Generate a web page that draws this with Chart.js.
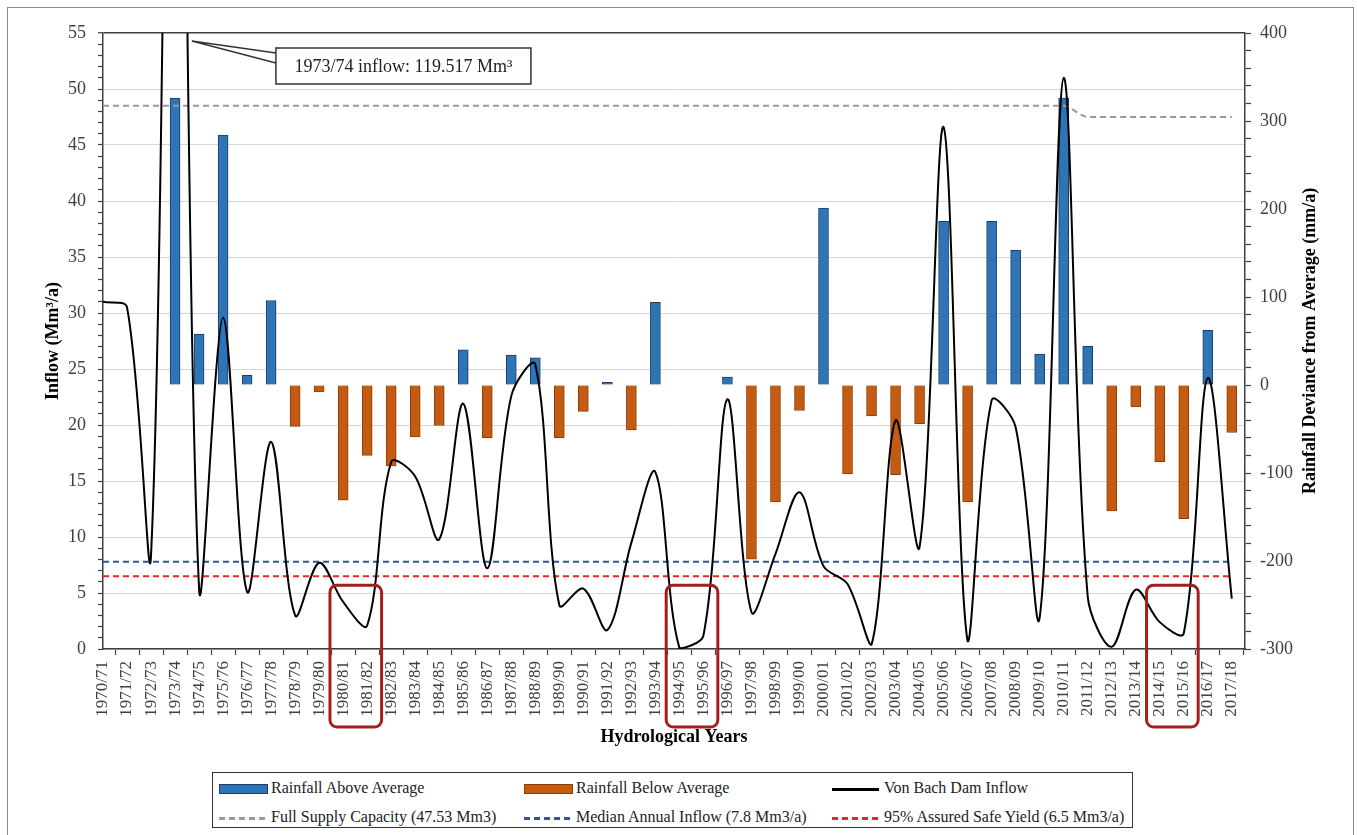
<!DOCTYPE html>
<html>
<head>
<meta charset="utf-8">
<title>Von Bach Dam inflow and rainfall deviance</title>
<script src="https://cdn.jsdelivr.net/npm/chart.js@4.4.0/dist/chart.umd.min.js"></script>
<style>
    html, body { margin: 0; padding: 0; background: #fff; overflow: hidden; }
    #wrap { position: relative; width: 1357px; height: 835px; }
    #chart { position: absolute; left: 0; top: 0; }
    #frame {
        position: absolute; left: 7px; top: 7px; width: 1347px; height: 850px;
        border: 1.5px solid #8a8a8a; box-sizing: border-box; pointer-events: none;
    }
    #legend {
        position: absolute; left: 212px; top: 772px; width: 921px; height: 56px;
        border: 1.5px solid #333; box-sizing: border-box; background: #fff;
        font-family: 'Liberation Serif', 'Times New Roman', serif; font-size: 16px; color: #222;
    }
    .item { position: absolute; white-space: nowrap; line-height: 18px; }
    .sw { position: absolute; }
    .sw-bar { width: 47px; height: 8px; margin-top: -5px; border: 1px solid; }
    .sw-line { width: 47px; height: 2.5px; margin-top: -1px; }
</style>
</head>
<body>
<div id="wrap">
    <canvas id="chart" width="1357" height="835"></canvas>
    <div id="frame"></div>
    <div id="legend"></div>
</div>
<script>
// ==================== DATOS ====================
const YEARS = [
    '1970/71', '1971/72', '1972/73', '1973/74', '1974/75', '1975/76', '1976/77', '1977/78',
    '1978/79', '1979/80', '1980/81', '1981/82', '1982/83', '1983/84', '1984/85', '1985/86',
    '1986/87', '1987/88', '1988/89', '1989/90', '1990/91', '1991/92', '1992/93', '1993/94',
    '1994/95', '1995/96', '1996/97', '1997/98', '1998/99', '1999/00', '2000/01', '2001/02',
    '2002/03', '2003/04', '2004/05', '2005/06', '2006/07', '2007/08', '2008/09', '2009/10',
    '2010/11', '2011/12', '2012/13', '2013/14', '2014/15', '2015/16', '2016/17', '2017/18',
];

// Von Bach Dam inflow (Mm3/a), eje izquierdo
const INFLOW = [
    31.0, 30.5, 8.4, 119.517, 5.4, 29.6, 5.1, 18.5,
    3.0, 7.7, 4.2, 2.1, 16.7, 15.4, 9.8, 21.9,
    7.2, 22.6, 25.4, 3.9, 5.4, 1.7, 9.5, 15.8,
    0.1, 1.2, 22.3, 3.3, 8.5, 14.0, 7.4, 5.8,
    0.4, 20.4, 9.1, 46.6, 0.7, 22.2, 19.8, 2.8,
    51.0, 4.7, 0.2, 5.3, 2.4, 1.4, 24.2, 4.5,
];

// Rainfall deviance from average (mm/a), eje derecho
const DEVIANCE = [
    null, null, null, 326, 58, 284, 11, 96,
    -47, -8, -131, -80, -92, -59, -46, 40,
    -60, 34, 31, -60, -30, 3, -51, 94,
    null, null, 9, -198, -133, -29, 201, -101,
    -35, -102, -44, 186, -133, 186, 153, 35,
    326, 44, -143, -25, -87, -152, 62, -54,
];

const FULL_SUPPLY_X = [0, 40, 41, 47];
const FULL_SUPPLY_Y = [48.5, 48.5, 47.5, 47.5];
const MEDIAN_INFLOW = 7.8;
const SAFE_YIELD = 6.5;

// recuadros rojos (índices de año)
const BOX_FROM = [10, 24, 44];
const BOX_TO = [11, 25, 45];

const FONT = "'Liberation Serif', 'Times New Roman', serif";
const AXIS = '#404040';

const pts = arr => arr.map((v, i) => ({ x: i, y: v }));
const last = YEARS.length - 1;

const extras = {
    id: 'extras',
    afterDraw(chart) {
        const { ctx, chartArea: a, scales } = chart;
        const xs = scales.x, yl = scales.y;
        ctx.save();

        // recuadros rojos
        ctx.strokeStyle = '#a31f1f';
        ctx.lineWidth = 3;
        BOX_FROM.forEach((f, i) => {
            const x0 = xs.getPixelForValue(f - 0.55);
            const x1 = xs.getPixelForValue(BOX_TO[i] + 0.6);
            const y0 = yl.getPixelForValue(5.7);
            const y1 = a.bottom + 78;
            ctx.beginPath();
            ctx.roundRect(x0, y0, x1 - x0, y1 - y0, 7);
            ctx.stroke();
        });

        // nota 1973/74
        const ax = xs.getPixelForValue(3.7), ay = a.top + 8;
        const bx = xs.getPixelForValue(7.2), by = a.top + 15, bw = 255, bh = 36;
        ctx.strokeStyle = '#333';
        ctx.lineWidth = 1.5;
        ctx.beginPath();
        ctx.moveTo(ax, ay); ctx.lineTo(bx, by + 5);
        ctx.moveTo(ax, ay); ctx.lineTo(bx, by + 15);
        ctx.stroke();
        ctx.fillStyle = '#fff';
        ctx.fillRect(bx, by, bw, bh);
        ctx.strokeRect(bx, by, bw, bh);
        ctx.fillStyle = '#222';
        ctx.font = `18px ${FONT}`;
        ctx.textAlign = 'center';
        ctx.textBaseline = 'middle';
        ctx.fillText('1973/74 inflow: 119.517 Mm³', bx + bw / 2, by + bh / 2 + 1);

        // título eje derecho
        ctx.translate(1310, (a.top + a.bottom) / 2);
        ctx.rotate(-Math.PI / 2);
        ctx.fillStyle = '#000';
        ctx.font = `bold 18px ${FONT}`;
        ctx.fillText('Rainfall Deviance from Average (mm/a)', 0, 0);
        ctx.restore();
    },
};

new Chart(document.getElementById('chart'), {
    type: 'bar',
    data: {
        datasets: [
            {
                type: 'line', label: 'Von Bach Dam Inflow', data: pts(INFLOW), yAxisID: 'y',
                borderColor: '#000', borderWidth: 2, pointRadius: 0, tension: 0.33, order: 0,
            },
            {
                type: 'line', label: 'Full Supply Capacity (47.53 Mm3)', yAxisID: 'y',
                data: FULL_SUPPLY_X.map((x, i) => ({ x, y: FULL_SUPPLY_Y[i] })),
                borderColor: '#9a9a9a', borderWidth: 2, borderDash: [6, 4], pointRadius: 0,
                cubicInterpolationMode: 'monotone', order: 1,
            },
            {
                type: 'line', label: 'Median Annual Inflow (7.8 Mm3/a)', yAxisID: 'y',
                data: [{ x: 0, y: MEDIAN_INFLOW }, { x: last, y: MEDIAN_INFLOW }],
                borderColor: '#2f5597', borderWidth: 2, borderDash: [6, 4], pointRadius: 0, order: 1,
            },
            {
                type: 'line', label: '95% Assured Safe Yield (6.5 Mm3/a)', yAxisID: 'y',
                data: [{ x: 0, y: SAFE_YIELD }, { x: last, y: SAFE_YIELD }],
                borderColor: '#e8262a', borderWidth: 2, borderDash: [6, 4], pointRadius: 0, order: 1,
            },
            {
                label: 'Rainfall Above Average', yAxisID: 'y1',
                data: DEVIANCE.map((v, i) => ({ x: i, y: v > 0 ? v : null })),
                backgroundColor: '#2e75b6', borderColor: '#1f3c64', borderWidth: 1,
                barThickness: 10, grouped: false, order: 5,
            },
            {
                label: 'Rainfall Below Average', yAxisID: 'y1',
                data: DEVIANCE.map((v, i) => ({ x: i, y: v !== null && v < 0 ? v : null })),
                backgroundColor: '#c55a11', borderColor: '#8a3e0c', borderWidth: 1,
                barThickness: 10, grouped: false, order: 5,
            },
        ],
    },
    options: {
        responsive: false,
        animation: false,
        layout: { padding: { top: 33, left: 0, right: 0, bottom: 0 } },
        plugins: { legend: { display: false }, tooltip: { enabled: false } },
        scales: {
            x: {
                type: 'linear', min: 0, max: 47.55, offset: false,
                afterFit: s => { s.height = 186; },
                afterBuildTicks: s => { s.ticks = YEARS.map((_, i) => ({ value: i })); },
                ticks: {
                    autoSkip: false, minRotation: 90, maxRotation: 90, padding: 6,
                    color: AXIS, font: { family: FONT, size: 17 },
                    callback: v => YEARS[v],
                },
                grid: { drawOnChartArea: false, tickLength: 6, color: AXIS, tickWidth: 1.2 },
                border: { color: AXIS, width: 1.5 },
                title: {
                    display: true, text: 'Hydrological Years', color: '#000',
                    font: { family: FONT, size: 18, weight: 'bold' }, padding: { bottom: 87 },
                },
            },
            y: {
                position: 'left', min: 0, max: 55,
                afterFit: s => { s.width = 103; },
                ticks: {
                    stepSize: 1, autoSkip: false, maxTicksLimit: 100, padding: 12,
                    color: AXIS, font: { family: FONT, size: 18 },
                    callback: v => (v % 5 === 0 ? v : ''),
                },
                grid: {
                    color: c => (c.tick.value === 55 ? AXIS : c.tick.value % 5 === 0 ? '#d6d6d6' : 'rgba(0,0,0,0)'),
                    lineWidth: c => (c.tick.value === 55 ? 1.5 : 1),
                    tickColor: AXIS, tickWidth: 1.2, tickLength: 5,
                },
                border: { color: AXIS, width: 1.5 },
                title: {
                    display: true, text: 'Inflow (Mm³/a)', color: '#000',
                    font: { family: FONT, size: 18, weight: 'bold' }, padding: { top: 43 },
                },
            },
            y1: {
                position: 'right', min: -300, max: 400,
                afterFit: s => { s.width = 112; },
                ticks: {
                    stepSize: 20, autoSkip: false, maxTicksLimit: 100, padding: 9,
                    color: AXIS, font: { family: FONT, size: 18 },
                    callback: v => (v % 100 === 0 ? String(v) : ''),
                },
                grid: { drawOnChartArea: false, tickColor: AXIS, tickWidth: 1.2, tickLength: 6 },
                border: { color: AXIS, width: 1.5 },
            },
        },
    },
    plugins: [extras],
});

// ==================== LEYENDA ====================
const LEGEND = [
    { col: 0, row: 0, kind: 'bar', color: '#2e75b6', edge: '#1f3c64', text: 'Rainfall Above Average' },
    { col: 1, row: 0, kind: 'bar', color: '#c55a11', edge: '#8a3e0c', text: 'Rainfall Below Average' },
    { col: 2, row: 0, kind: 'line', color: '#000', text: 'Von Bach Dam Inflow' },
    { col: 0, row: 1, kind: 'dash', color: '#9a9a9a', text: 'Full Supply Capacity (47.53 Mm3)' },
    { col: 1, row: 1, kind: 'dash', color: '#2f5597', text: 'Median Annual Inflow (7.8 Mm3/a)' },
    { col: 2, row: 1, kind: 'dash', color: '#e8262a', text: '95% Assured Safe Yield (6.5 Mm3/a)' },
];
const COL_X = [6, 311, 619];
const ROW_Y = [16, 45];

document.getElementById('legend').innerHTML = LEGEND.map(l => {
    const x = COL_X[l.col], y = ROW_Y[l.row];
    let sw;
    if (l.kind === 'bar') {
        sw = `<span class="sw sw-bar" style="left:${x}px;top:${y}px;background:${l.color};border-color:${l.edge}"></span>`;
    } else if (l.kind === 'line') {
        sw = `<span class="sw sw-line" style="left:${x}px;top:${y}px;background:${l.color}"></span>`;
    } else {
        sw = `<span class="sw sw-line" style="left:${x}px;top:${y}px;background:repeating-linear-gradient(90deg, ${l.color} 0 6px, transparent 6px 10px)"></span>`;
    }
    return `${sw}<span class="item" style="left:${x + 52}px;top:${y - 10}px">${l.text}</span>`;
}).join('');
</script>
</body>
</html>
